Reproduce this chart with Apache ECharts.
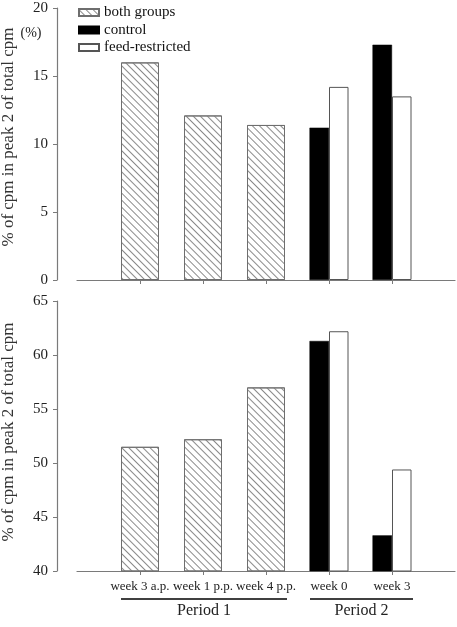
<!DOCTYPE html>
<html>
<head>
<meta charset="utf-8">
<script src="https://cdn.jsdelivr.net/npm/echarts@6/dist/echarts.min.js"></script>
<style>
html, body { margin: 0; padding: 0; background: #fff; }
#main { width: 457px; height: 627px; }
</style>
</head>
<body>
<div id="main"></div>
<script>
// categories
var weeks = ['week 3 a.p.', 'week 1 p.p.', 'week 4 p.p.', 'week 0', 'week 3'];
var legendNames = ['both groups', 'control', 'feed-restricted'];

// upper panel, % of cpm in peak 2
var topBoth = [16.0, 12.1, 11.4, null, null];
var topControl = [null, null, null, 11.2, 17.3];
var topFeed = [null, null, null, 14.2, 13.5];
var topTicks = [0, 5, 10, 15, 20];

// lower panel
var botBoth = [51.5, 52.2, 57.0, null, null];
var botControl = [null, null, null, 61.3, 43.3];
var botFeed = [null, null, null, 62.2, 49.4];
var botTicks = [40, 45, 50, 55, 60, 65];

var periods = [
    { name: 'Period 1', from: 'week 3 a.p.', to: 'week 4 p.p.' },
    { name: 'Period 2', from: 'week 0', to: 'week 3' }
];

var SERIF = '"Liberation Serif", "Times New Roman", serif';
var axisGray = '#7a7a7a';

// empty slot at both ends so the base line runs past the bars
var cats = [''].concat(weeks, ['']);
function pad(arr) {
    return ['-'].concat(arr.map(function(v) { return v == null ? '-' : v; }), ['-']);
}

var hatch = {
    symbol: 'rect',
    symbolSize: 1,
    dashArrayX: [1, 0],
    dashArrayY: [1, 4],
    rotation: Math.PI / 4,
    color: '#8a8a8a',
    backgroundColor: null
};

function xAxis(grid, showLabels, visible) {
    return {
        type: 'category',
        gridIndex: grid,
        data: cats,
        boundaryGap: false,
        show: visible,
        axisLine: { show: true, lineStyle: { color: axisGray, width: 1.2 } },
        axisTick: {
            show: true,
            length: 4,
            lineStyle: { color: axisGray },
            interval: function(i, v) { return v !== ''; }
        },
        axisLabel: {
            show: showLabels,
            interval: 0,
            margin: 9,
            fontFamily: SERIF,
            fontSize: 13,
            color: '#222'
        },
        splitLine: { show: false }
    };
}

function yAxis(grid, ticks, shift) {
    return {
        type: 'value',
        gridIndex: grid,
        min: ticks[0],
        max: ticks[ticks.length - 1],
        interval: ticks[1] - ticks[0],
        offset: 20,
        name: '% of cpm in peak 2 of total cpm',
        nameLocation: 'middle',
        nameGap: 40,
        nameTextStyle: { fontFamily: SERIF, fontSize: 17, color: '#333', padding: [0, 0, 0, shift] },
        axisLine: { show: true, lineStyle: { color: axisGray, width: 1.2 } },
        axisTick: { show: true, length: 4, lineStyle: { color: axisGray } },
        axisLabel: { margin: 9, fontFamily: SERIF, fontSize: 15, color: '#222' },
        splitLine: { show: false }
    };
}

function bars(name, data, xi, yi, kind) {
    var s = {
        name: name,
        type: 'bar',
        xAxisIndex: xi,
        yAxisIndex: yi,
        data: pad(data)
    };
    if (kind === 'both') {
        s.barWidth = 38;
        s.itemStyle = { color: '#fff', borderColor: '#6e6e6e', borderWidth: 1, decal: hatch };
    } else if (kind === 'control') {
        s.barWidth = 19.5;
        s.barGap = '0%';
        s.itemStyle = { color: '#000', borderColor: '#000', borderWidth: 0.5 };
    } else {
        s.barWidth = 19.5;
        s.barGap = '0%';
        s.itemStyle = { color: '#fff', borderColor: '#555', borderWidth: 1 };
    }
    return s;
}

var chart = echarts.init(document.getElementById('main'), null, { renderer: 'canvas' });

var option = {
    animation: false,
    backgroundColor: '#fff',
    grid: [
        { left: 77, right: 2, top: 8, height: 272, outerBoundsMode: 'none' },
        { left: 77, right: 2, top: 301, height: 270, outerBoundsMode: 'none' }
    ],
    legend: {
        data: legendNames,
        orient: 'vertical',
        left: 78,
        top: 5,
        padding: 0,
        itemWidth: 20,
        itemHeight: 7,
        itemGap: 2.5,
        icon: 'rect',
        textStyle: { fontFamily: SERIF, fontSize: 15, color: '#111' }
    },
    xAxis: [
        xAxis(0, false, true),
        xAxis(0, false, false),
        xAxis(1, true, true),
        xAxis(1, false, false)
    ],
    yAxis: [
        yAxis(0, topTicks, 14),
        yAxis(1, botTicks, 8)
    ],
    series: [
        bars(legendNames[0], topBoth, 0, 0, 'both'),
        bars(legendNames[1], topControl, 1, 0, 'control'),
        bars(legendNames[2], topFeed, 1, 0, 'feed'),
        bars(legendNames[0], botBoth, 2, 1, 'both'),
        bars(legendNames[1], botControl, 3, 1, 'control'),
        bars(legendNames[2], botFeed, 3, 1, 'feed')
    ]
};
chart.setOption(option);

// period brackets under the lower axis
var g = [{
    type: 'text',
    x: 31, y: 33,
    style: { text: '(%)', font: '14px ' + SERIF, fill: '#222', align: 'center', verticalAlign: 'middle' }
}];
periods.forEach(function(p) {
    var x1 = chart.convertToPixel({ xAxisIndex: 2 }, p.from) - 19;
    var x2 = chart.convertToPixel({ xAxisIndex: 2 }, p.to) + 21;
    g.push({
        type: 'line',
        shape: { x1: x1, y1: 599, x2: x2, y2: 599 },
        style: { stroke: '#000', lineWidth: 1.5 }
    });
    g.push({
        type: 'text',
        x: (x1 + x2) / 2, y: 611,
        style: { text: p.name, font: '16px ' + SERIF, fill: '#222', align: 'center', verticalAlign: 'middle' }
    });
});
chart.setOption({ graphic: g });
</script>
</body>
</html>
